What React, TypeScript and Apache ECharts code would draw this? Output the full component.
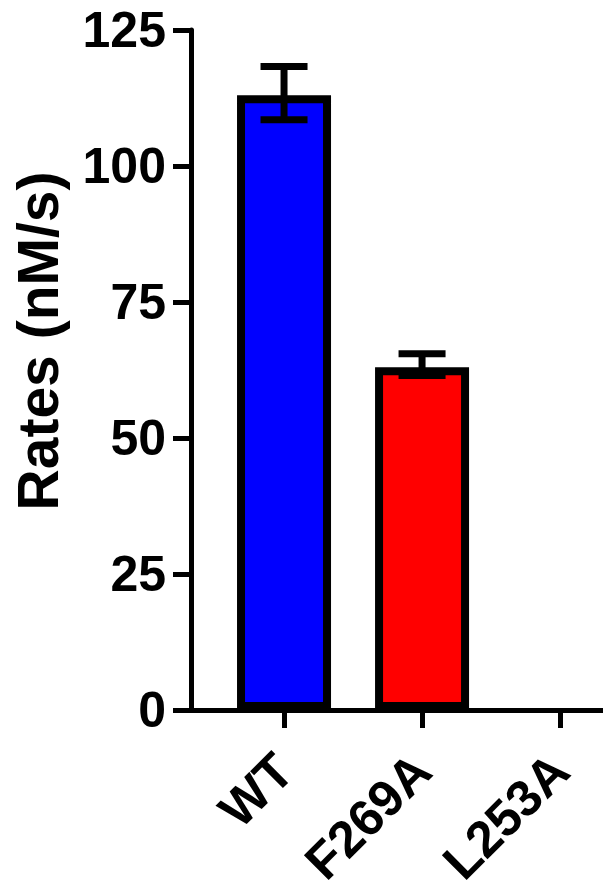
import React, { useEffect, useRef } from "react";
import * as echarts from "echarts";

const categories = ["WT", "F269A", "L253A"];
const rates = [113, 63, 0];
const errLow = [108.5, 61.5, null];
const errHigh = [118.3, 65.5, null];
const barColors = ["#0000ff", "#ff0000", "#ffffff"];
const yTicks = [0, 25, 50, 75, 100, 125];

const FONT = "'Liberation Sans', Arial, Helvetica, sans-serif";

export default function App() {
  const ref = useRef<HTMLDivElement>(null);
  useEffect(() => {
    document.body.style.margin = "0";
    const chart = echarts.init(ref.current!, undefined, { renderer: "svg" });
    const catIdx = categories.map((_, i) => i);
    const errData = catIdx
      .filter((i) => errLow[i] !== null)
      .map((i) => [i, errLow[i], errHigh[i]]);
    chart.setOption({
      animation: false,
      grid: { left: 191, top: 30, bottom: 180, right: 0, containLabel: false, outerBoundsMode: "none" },
      xAxis: {
        type: "value",
        min: -0.674,
        max: 2.311,
        splitLine: { show: false },
        axisLine: { show: true, onZero: false, lineStyle: { color: "#000", width: 5 } },
        axisTick: {
          show: true,
          customValues: catIdx,
          length: 18,
          lineStyle: { color: "#000", width: 5 },
        },
        axisLabel: {
          customValues: catIdx,
          formatter: (v: number) => categories[Math.round(v)] ?? "",
          rotate: 45,
          margin: 52,
          color: "#000",
          fontSize: 51,
          fontWeight: "bold",
          fontFamily: FONT,
        },
      },
      yAxis: {
        type: "value",
        min: yTicks[0],
        max: yTicks[yTicks.length - 1],
        interval: 25,
        splitLine: { show: false },
        axisLine: { show: true, onZero: false, lineStyle: { color: "#000", width: 5 } },
        axisTick: { show: true, length: 18, lineStyle: { color: "#000", width: 5 } },
        axisLabel: {
          margin: 25,
          color: "#000",
          fontSize: 50,
          fontWeight: "bold",
          fontFamily: FONT,
        },
      },
      graphic: [
        {
          type: "text",
          x: 38,
          y: 341,
          rotation: Math.PI / 2,
          style: {
            text: "Rates (nM/s)",
            font: `bold 57px ${FONT}`,
            fill: "#000",
            textAlign: "center",
            textVerticalAlign: "middle",
          },
        },
      ],
      series: [
        {
          type: "bar",
          barWidth: 94,
          data: catIdx.map((i) => ({
            value: [i, rates[i]],
            itemStyle: {
              color: barColors[i],
              borderColor: "#000",
              borderWidth: rates[i] > 0 ? 8 : 0,
              opacity: rates[i] > 0 ? 1 : 0,
            },
          })),
        },
        {
          type: "custom",
          z: 10,
          data: errData,
          renderItem: (params: any, api: any) => {
            const x = api.value(0);
            const lo = api.coord([x, api.value(1)]);
            const hi = api.coord([x, api.value(2)]);
            const hw = 23.5;
            const style = { stroke: "#000", lineWidth: 7 };
            return {
              type: "group",
              children: [
                { type: "line", shape: { x1: hi[0], y1: hi[1], x2: lo[0], y2: lo[1] }, style },
                { type: "line", shape: { x1: hi[0] - hw, y1: hi[1], x2: hi[0] + hw, y2: hi[1] }, style },
                { type: "line", shape: { x1: lo[0] - hw, y1: lo[1], x2: lo[0] + hw, y2: lo[1] }, style },
              ],
            };
          },
        },
      ],
    });
    return () => chart.dispose();
  }, []);
  return <div ref={ref} style={{ width: 603, height: 890 }} />;
}
